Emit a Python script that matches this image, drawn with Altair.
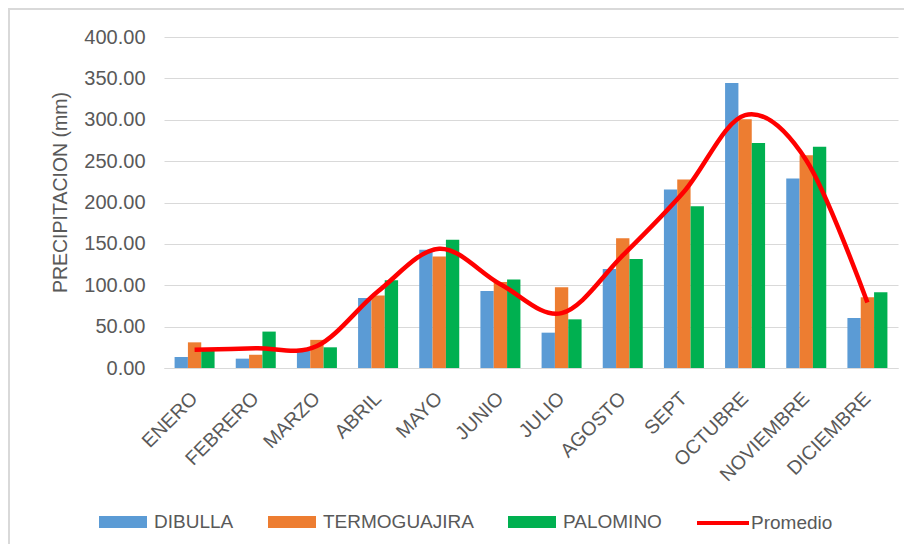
import altair as alt
import pandas as pd

months = ["ENERO", "FEBRERO", "MARZO", "ABRIL", "MAYO", "JUNIO", "JULIO",
          "AGOSTO", "SEPT", "OCTUBRE", "NOVIEMBRE", "DICIEMBRE"]
series = ["DIBULLA", "TERMOGUAJIRA", "PALOMINO"]
dibulla = [13.3, 11.3, 20.5, 84.6, 143.0, 93.0, 42.7, 119.7, 215.6, 344.4, 228.9, 60.4]
termoguajira = [31.0, 16.0, 34.0, 87.5, 134.6, 104.0, 97.5, 156.7, 227.7, 300.5, 257.0, 85.4]
palomino = [22.0, 44.0, 25.0, 106.0, 155.0, 106.8, 58.8, 131.7, 195.4, 272.0, 267.5, 91.5]
promedio = [22.1, 23.8, 26.5, 92.7, 144.2, 101.3, 66.3, 136.0, 212.9, 305.6, 251.1, 79.1]
y_ticks = [0, 50, 100, 150, 200, 250, 300, 350, 400]

colors = ["#5B9BD5", "#ED7D31", "#00B050"]
FONT = "Liberation Sans"
TXT = "#595959"
GRID = "#D9D9D9"
W, H = 734, 331

rows = []
for s, vals in zip(series, [dibulla, termoguajira, palomino]):
    for m, v in zip(months, vals):
        rows.append({"mes": m, "serie": s, "valor": v})
bars_df = pd.DataFrame(rows)
line_df = pd.DataFrame({"mes": months, "valor": promedio, "serie": ["Promedio"] * len(months)})

x_enc = alt.X("mes:N", sort=months, title=None,
              scale=alt.Scale(paddingInner=0.346, paddingOuter=0.173),
              axis=alt.Axis(labelAngle=-45, labelAlign="right", labelBaseline="middle",
                            labelPadding=27, ticks=False, domain=True, domainColor=GRID,
                            domainWidth=1, grid=False, labelFontSize=19.5, labelColor=TXT,
                            labelFont=FONT))
y_enc = alt.Y("valor:Q", title="PRECIPITACION (mm)",
              scale=alt.Scale(domain=[0, 400], nice=False),
              axis=alt.Axis(values=y_ticks, format=".2f", grid=True, gridColor=GRID,
                            gridWidth=1, domain=False, ticks=False, tickSize=0,
                            labelPadding=19, labelFontSize=20, labelColor=TXT,
                            labelFont=FONT, titleFont=FONT, titleFontSize=19.5,
                            titleColor=TXT, titleFontWeight="normal",
                            titleX=-104, titleY=155, titleAngle=-90,
                            titleAlign="center", titleBaseline="middle"))

bars = alt.Chart(bars_df).mark_bar().encode(
    x=x_enc,
    y=y_enc,
    xOffset=alt.XOffset("serie:N", sort=series, scale=alt.Scale(paddingInner=0, paddingOuter=0)),
    color=alt.Color("serie:N", sort=series,
                    scale=alt.Scale(domain=series, range=colors),
                    legend=alt.Legend(title=None, orient="none", direction="horizontal",
                                      legendX=-65, legendY=461,
                                      symbolType="M-1,-0.25H1V0.25H-1Z",
                                      symbolSize=2304, symbolStrokeWidth=0,
                                      labelOffset=7, columnPadding=34,
                                      labelFont=FONT, labelFontSize=19,
                                      labelColor=TXT, padding=0)),
)

line = alt.Chart(line_df).mark_line(interpolate="cardinal", strokeWidth=4.5).encode(
    x=alt.X("mes:N", sort=months),
    y=alt.Y("valor:Q"),
    stroke=alt.Stroke("serie:N",
                      scale=alt.Scale(domain=["Promedio"], range=["#FF0000"]),
                      legend=alt.Legend(title=None, orient="none", direction="horizontal",
                                        legendX=531, legendY=458,
                                        symbolType="stroke", symbolSize=2704,
                                        symbolStrokeWidth=4, labelOffset=0,
                                        labelFont=FONT, labelFontSize=19,
                                        labelColor=TXT, padding=0)),
)

frame_src = alt.Data(values=[{"k": 1}])
left_border = alt.Chart(frame_src).mark_rule(color=GRID, strokeWidth=2).encode(
    x=alt.value(-155), y=alt.value(-30), y2=alt.value(H + 180))
top_border = alt.Chart(frame_src).mark_rule(color=GRID, strokeWidth=2).encode(
    y=alt.value(-28), x=alt.value(-157), x2=alt.value(W + 10))

chart = alt.layer(bars, line, left_border, top_border).properties(
    width=W, height=H,
    autosize=alt.AutoSizeParams(type="none"),
    padding={"left": 156, "top": 29, "right": 6, "bottom": 176},
    background="white",
).resolve_scale(color="independent").configure_view(stroke=None)

chart.save("out.html", embed_options={"renderer": "svg", "actions": False})
